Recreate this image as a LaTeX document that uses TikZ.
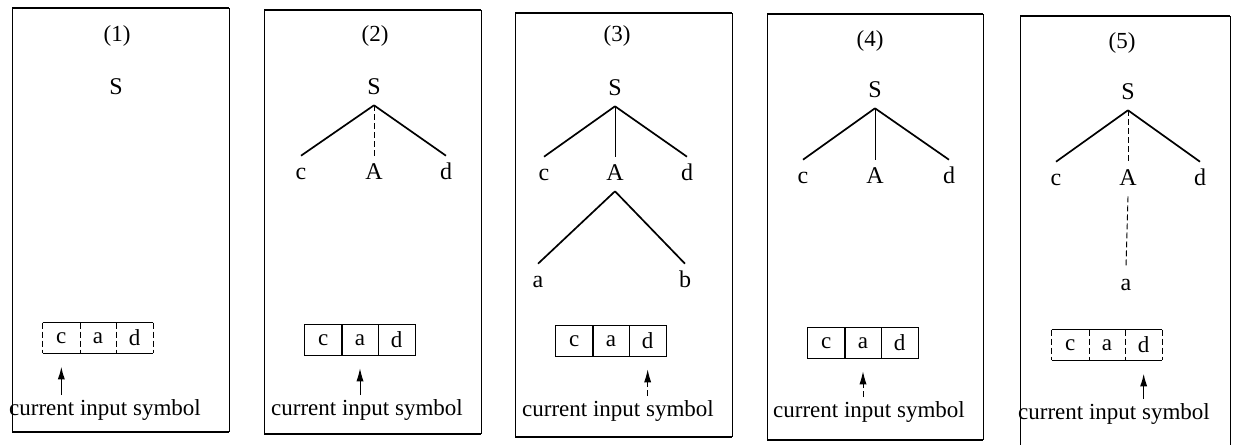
\documentclass[tikz,border=0pt]{standalone}
\usepackage{fontspec}
\setmainfont{Liberation Serif}
\usetikzlibrary{arrows.meta}
\newcommand\pframe[4]{%
  \draw[frameH] (#1,#2) -- (#3,#2);
  \draw[frameH] (#1,#4) -- (#3,#4);
  \draw[frameV] (#1,#2) -- (#1,#4) (#3,#2) -- (#3,#4);}
\begin{document}
\begin{tikzpicture}[x=0.5pt,y=-0.5pt,
  font=\fontsize{11.5}{13}\selectfont,
  lbl/.style={inner sep=5pt, text height=1.5ex, text depth=0pt, font=\fontsize{12}{14}\selectfont},
  hdr/.style={inner sep=1pt},
  cell/.style={minimum width=18.33pt, minimum height=15pt, inner sep=0pt},
  frameH/.style={line width=0.9pt},
  frameV/.style={line width=0.4pt},
  branch/.style={line width=0.85pt},
  thinline/.style={line width=0.45pt},
  boxline/.style={line width=0.75pt},
  dashline/.style={line width=0.45pt, dash pattern=on 3pt off 1.5pt},
  ptr/.style={-{Latex[length=6.5pt,width=3.6pt]}, shorten >=6.5pt, shorten <=0.5pt},
  captxt/.style={inner sep=1.5pt}]
\useasboundingbox (0,0) rectangle (1233,445);

% ---------- frames ----------
\pframe{12}{8}{229}{432}
\pframe{264}{10}{481}{434}
\pframe{515}{13}{732}{437}
\pframe{767}{14}{983}{440}
\draw[frameH] (1020,16) -- (1230,16);
\draw[frameV] (1020,16) -- (1020,445) (1230,16) -- (1230,445);

% ---------- panel 1 ----------
\node[hdr] (h1) at (117,36) {(1)};
\node[lbl] (S1) at (116,88) {S};
\node[cell] (c1) at (61.33,338) {c};
\node[cell] (a1) at (98,338) {a};
\node[cell] (d1) at (134.67,338) {d};
\draw[boxline] (c1.north west) -- (d1.north east) (c1.south west) -- (d1.south east);
\draw[dashline] (c1.north west) -- (c1.south west) (c1.north east) -- (c1.south east)
  (a1.north east) -- (a1.south east) (d1.north east) -- (d1.south east);
\node[captxt] (t1) at (105,410) {current input symbol};
\draw[ptr, line width=0.8pt] (t1.north -| c1.south) -- (c1.south);

% ---------- panel 2 ----------
\node[hdr] (h2) at (375,36) {(2)};
\node[lbl] (S2) at (374,88) {S};
\node[lbl] (cc2) at (301,173) {c};
\node[lbl] (A2) at (374,173) {A};
\node[lbl] (dd2) at (446,173) {d};
\draw[branch] (S2.south) -- (cc2.north);
\draw[branch] (S2.south) -- (dd2.north);
\draw[dashline] (S2.south) -- (A2.north);
\node[cell] (c2) at (323.33,340) {c};
\node[cell] (a2) at (360,340) {a};
\node[cell] (d2) at (396.67,340) {d};
\draw[boxline] (c2.north west) rectangle (d2.south east);
\draw[boxline] (c2.north east) -- (c2.south east) (a2.north east) -- (a2.south east);
\node[captxt] (t2) at (367,410) {current input symbol};
\draw[ptr, thinline] (t2.north -| a2.south) -- (a2.south);

% ---------- panel 3 ----------
\node[hdr] (h3) at (617,36) {(3)};
\node[lbl] (S3) at (615,89) {S};
\node[lbl] (cc3) at (544,174) {c};
\node[lbl] (A3) at (615,174) {A};
\node[lbl] (dd3) at (687,174) {d};
\draw[branch] (S3.south) -- (cc3.north);
\draw[branch] (S3.south) -- (dd3.north);
\draw[thinline] (S3.south) -- (A3.north);
\node[lbl] (aa3) at (538,281) {a};
\node[lbl] (bb3) at (685,281) {b};
\draw[branch] (A3.south) -- (aa3.north);
\draw[branch] (A3.south) -- (bb3.north);
\node[cell] (c3) at (574.33,341) {c};
\node[cell] (a3) at (611,341) {a};
\node[cell] (d3) at (647.67,341) {d};
\draw[boxline] (c3.north west) rectangle (d3.south east);
\draw[boxline] (c3.north east) -- (c3.south east) (a3.north east) -- (a3.south east);
\node[captxt] (t3) at (618,411) {current input symbol};
\draw[ptr, dashline] (t3.north -| d3.south) -- (d3.south);

% ---------- panel 4 ----------
\node[hdr] (h4) at (870,41) {(4)};
\node[lbl] (S4) at (875,91) {S};
\node[lbl] (cc4) at (803,177) {c};
\node[lbl] (A4) at (875,177) {A};
\node[lbl] (dd4) at (949,177) {d};
\draw[branch] (S4.south) -- (cc4.north);
\draw[branch] (S4.south) -- (dd4.north);
\draw[thinline] (S4.south) -- (A4.north);
\node[cell] (c4) at (826.33,343) {c};
\node[cell] (a4) at (863,343) {a};
\node[cell] (d4) at (899.67,343) {d};
\draw[boxline] (c4.north west) rectangle (d4.south east);
\draw[boxline] (c4.north east) -- (c4.south east) (a4.north east) -- (a4.south east);
\node[captxt] (t4) at (869,412) {current input symbol};
\draw[ptr, dashline] (t4.north -| a4.south) -- (a4.south);

% ---------- panel 5 ----------
\node[hdr] (h5) at (1122,43) {(5)};
\node[lbl] (S5) at (1128,93) {S};
\node[lbl] (cc5) at (1056,179) {c};
\node[lbl] (A5) at (1128,179) {A};
\node[lbl] (dd5) at (1200,179) {d};
\draw[branch] (S5.south) -- (cc5.north);
\draw[branch] (S5.south) -- (dd5.north);
\draw[dashline] (S5.south) -- (A5.north);
\node[lbl] (aa5) at (1126,284) {a};
\draw[dashline] (A5.south) -- (aa5.north);
\node[cell] (c5) at (1070.33,345) {c};
\node[cell] (a5) at (1107,345) {a};
\node[cell] (d5) at (1143.67,345) {d};
\draw[boxline] (c5.north west) -- (d5.north east) (c5.south west) -- (d5.south east);
\draw[dashline] (c5.north west) -- (c5.south west) (c5.north east) -- (c5.south east)
  (a5.north east) -- (a5.south east) (d5.north east) -- (d5.south east);
\node[captxt] (t5) at (1114,414) {current input symbol};
\draw[ptr, line width=0.8pt] (t5.north -| d5.south) -- (d5.south);
\end{tikzpicture}
\end{document}
